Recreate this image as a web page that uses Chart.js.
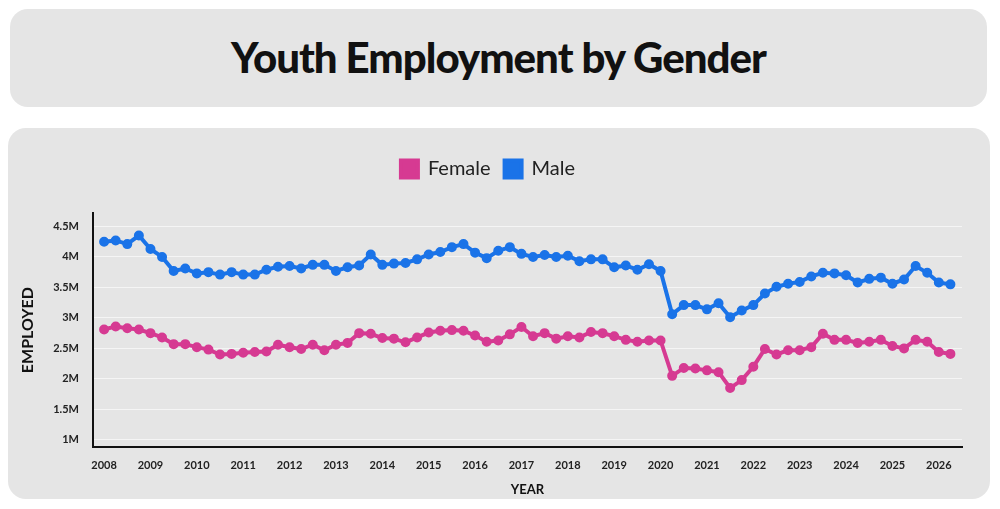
<!DOCTYPE html>
<html><head><meta charset="utf-8">
<script src="https://cdn.jsdelivr.net/npm/chart.js@4"></script>
<style>
body{margin:0;background:#fff;width:1000px;height:509px;position:relative;font-family:Lato,sans-serif;overflow:hidden}
#tb{position:absolute;left:10px;top:9px;width:977px;height:98px;background:#e5e5e5;border-radius:18px;display:flex;align-items:center;justify-content:center;font-weight:900;font-size:42px;color:#111;letter-spacing:-1px;padding-bottom:2px;box-sizing:border-box}
#cb{position:absolute;left:8px;top:128px;width:982px;height:371px;background:#e5e5e5;border-radius:18px}
#cw{position:absolute;left:0;top:0;width:982px;height:371px}
</style></head><body>
<div id="tb">Youth Employment by Gender</div>
<div id="cb"><div id="cw"><canvas id="c"></canvas></div></div>
<script>
const startYear = 2008;
const tickYears = [2008,2009,2010,2011,2012,2013,2014,2015,2016,2017,2018,2019,2020,2021,2022,2023,2024,2025,2026];
const yTicks = [1,1.5,2,2.5,3,3.5,4,4.5];
const male = [4.25,4.27,4.21,4.35,4.13,4.0,3.77,3.81,3.73,3.75,3.71,3.75,3.71,3.71,3.79,3.84,3.85,3.81,3.87,3.87,3.77,3.83,3.86,4.04,3.87,3.89,3.9,3.96,4.04,4.08,4.16,4.21,4.07,3.98,4.1,4.16,4.05,4.0,4.03,4.0,4.02,3.93,3.96,3.96,3.83,3.86,3.79,3.88,3.77,3.06,3.21,3.21,3.14,3.24,3.01,3.12,3.21,3.4,3.51,3.56,3.59,3.68,3.74,3.73,3.7,3.58,3.64,3.66,3.56,3.63,3.85,3.74,3.58,3.55];
const female = [2.81,2.86,2.83,2.81,2.75,2.68,2.57,2.57,2.52,2.48,2.4,2.41,2.43,2.44,2.45,2.56,2.52,2.49,2.56,2.47,2.56,2.59,2.75,2.74,2.67,2.66,2.6,2.68,2.76,2.79,2.8,2.79,2.71,2.61,2.63,2.73,2.85,2.7,2.75,2.66,2.7,2.68,2.77,2.75,2.7,2.64,2.61,2.63,2.63,2.05,2.18,2.17,2.14,2.11,1.85,1.98,2.2,2.49,2.4,2.47,2.47,2.52,2.74,2.64,2.64,2.59,2.61,2.64,2.54,2.5,2.64,2.61,2.44,2.41];
const pts = a => a.map((v,i)=>({x:startYear+i*0.25,y:v}));
const fmt = v => (Math.round(v*10)/10)+'M';
const legendGap = {id:'legendGap',beforeInit(chart){const f=chart.legend.fit;chart.legend.fit=function(){f.call(this);this.height+=24;};}};
new Chart(document.getElementById('c'),{
 type:'line',
 data:{datasets:[
  {label:'Female',data:pts(female),borderColor:'#d63a92',backgroundColor:'#d63a92',borderWidth:4,pointRadius:3,pointBackgroundColor:'#d63a92',tension:0},
  {label:'Male',data:pts(male),borderColor:'#1a73e8',backgroundColor:'#1a73e8',borderWidth:4,pointRadius:3,pointBackgroundColor:'#1a73e8',tension:0}
 ]},
 plugins:[legendGap],
 options:{responsive:true,maintainAspectRatio:false,animation:false,
  layout:{padding:{top:17,right:28,left:6,bottom:1}},
  plugins:{legend:{labels:{font:{family:'Lato',size:20},color:'#222',boxWidth:17,boxHeight:17,padding:14},onClick:null},tooltip:{enabled:false}},
  scales:{
   x:{type:'linear',min:2007.76,max:2026.5,
     afterBuildTicks:s=>{s.ticks=tickYears.map(v=>({value:v}));},
     ticks:{callback:v=>String(v),font:{family:'Lato',size:11,weight:'bold'},color:'#222',maxRotation:0,autoSkip:false,padding:4},
     grid:{display:false},border:{color:'#111',width:2},
     title:{display:true,text:'YEAR',font:{family:'Lato',size:13,weight:'bold'},color:'#111',padding:{top:6,bottom:0}}},
   y:{min:0.88,max:4.72,
     afterBuildTicks:s=>{s.ticks=yTicks.map(v=>({value:v}));},
     ticks:{callback:v=>fmt(v),font:{family:'Lato',size:11,weight:'bold'},color:'#222',padding:14},
     grid:{color:'rgba(255,255,255,0.6)',drawTicks:false},border:{color:'#111',width:2},
     title:{display:true,text:'EMPLOYED',font:{family:'Lato',size:16,weight:'bold'},color:'#111',padding:{bottom:2}}}
  }}
});
</script></body></html>
